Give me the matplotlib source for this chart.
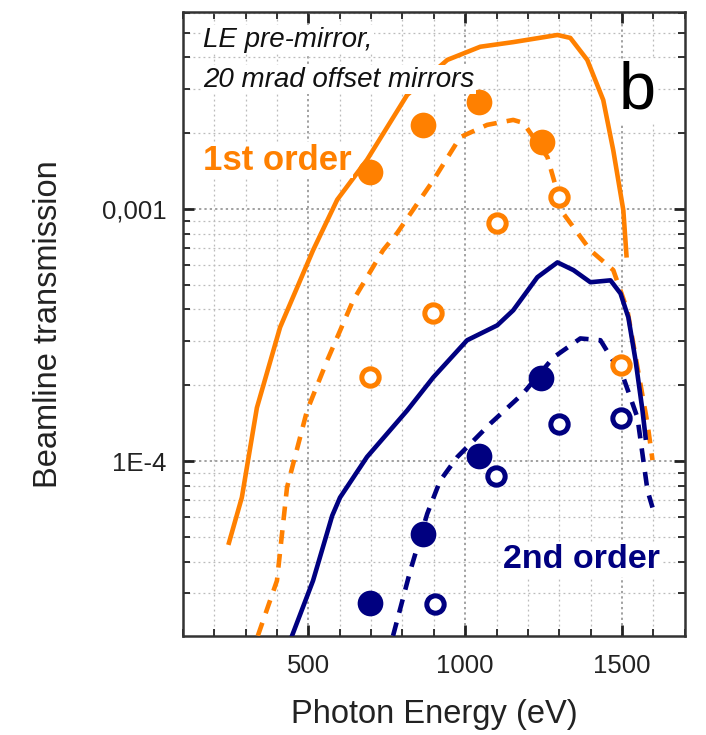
import matplotlib.pyplot as plt
import numpy as np
from matplotlib.ticker import FixedLocator, FixedFormatter, LogLocator, MultipleLocator, NullFormatter

plt.rcParams['font.family'] = ['Liberation Sans', 'DejaVu Sans']

ORANGE = '#FF8000'
NAVY = '#000080'

# 1st order, calculated (solid)
o_sol_x = [247, 288, 336, 410, 515, 592, 687, 815, 943, 1048, 1153, 1294, 1335, 1389, 1440, 1472, 1504, 1514]
o_sol_y = [4.75e-5, 7.18e-5, 1.63e-4, 3.40e-4, 6.87e-4, 1.09e-3, 1.57e-3, 2.84e-3, 3.91e-3,
           4.41e-3, 4.60e-3, 4.91e-3, 4.78e-3, 3.91e-3, 2.71e-3, 1.71e-3, 9.9e-4, 6.56e-4]
# 1st order, calculated (dashed)
o_dash_x = [339, 400, 432, 496, 560, 643, 738, 783, 898, 984, 1070, 1153, 1185, 1262, 1313,
            1399, 1472, 1517, 1549, 1581, 1597]
o_dash_y = [2.03e-5, 3.36e-5, 7.87e-5, 1.59e-4, 2.51e-4, 4.35e-4, 6.87e-4, 8.04e-4, 1.30e-3,
            1.93e-3, 2.16e-3, 2.26e-3, 2.20e-3, 1.61e-3, 9.6e-4, 6.87e-4, 5.73e-4, 3.97e-4,
            2.36e-4, 1.41e-4, 1.01e-4]
# 2nd order, calculated (solid)
n_sol_x = [448, 515, 576, 601, 687, 815, 898, 1006, 1102, 1153, 1230, 1294, 1345, 1399, 1463,
           1495, 1520, 1543, 1565, 1575]
n_sol_y = [2.03e-5, 3.36e-5, 6.08e-5, 7.18e-5, 1.04e-4, 1.59e-4, 2.15e-4, 3.02e-4, 3.46e-4,
           3.97e-4, 5.37e-4, 6.15e-4, 5.73e-4, 5.13e-4, 5.22e-4, 4.63e-4, 3.72e-4, 2.51e-4,
           1.59e-4, 1.24e-4]
# 2nd order, calculated (dashed)
n_dash_x = [770, 825, 879, 920, 975, 1080, 1185, 1281, 1367, 1431, 1504, 1549, 1581, 1597]
n_dash_y = [2.03e-5, 3.68e-5, 6.19e-5, 8.37e-5, 1.04e-4, 1.41e-4, 1.86e-4, 2.58e-4, 3.07e-4,
            3.02e-4, 2.15e-4, 1.49e-4, 7.66e-5, 6.55e-5]

# measured points
o_fill_x = [697, 866, 1045, 1246]
o_fill_y = [1.40e-3, 2.16e-3, 2.66e-3, 1.85e-3]
o_open_x = [697, 898, 1102, 1300, 1498]
o_open_y = [2.15e-4, 3.86e-4, 8.79e-4, 1.12e-3, 2.40e-4]
n_fill_x = [697, 866, 1045, 1243]
n_fill_y = [2.75e-5, 5.16e-5, 1.05e-4, 2.13e-4]
n_open_x = [904, 1099, 1300, 1498]
n_open_y = [2.72e-5, 8.77e-5, 1.40e-4, 1.49e-4]

fig = plt.figure(figsize=(7.06, 7.35), dpi=100)
ax = fig.add_axes([0.259, 0.135, 0.711, 0.849])

lw = 3.3
ax.plot(o_sol_x, o_sol_y, color=ORANGE, lw=lw, zorder=3)
ax.plot(o_dash_x, o_dash_y, color=ORANGE, lw=lw, dashes=(3, 2.2), zorder=3)
ax.plot(n_sol_x, n_sol_y, color=NAVY, lw=lw, zorder=3)
ax.plot(n_dash_x, n_dash_y, color=NAVY, lw=lw, dashes=(3, 2.2), zorder=3)

ax.plot(o_fill_x, o_fill_y, 'o', color=ORANGE, ms=18.5, mec='none', zorder=4)
ax.plot(o_open_x, o_open_y, 'o', mfc='white', mec=ORANGE, ms=12.5, mew=3.6, zorder=4)
ax.plot(n_fill_x, n_fill_y, 'o', color=NAVY, ms=18.5, mec='none', zorder=4)
ax.plot(n_open_x, n_open_y, 'o', mfc='white', mec=NAVY, ms=12.5, mew=3.6, zorder=4)

ax.set_xscale('linear')
ax.set_yscale('log')
ax.set_xlim(100, 1700)
ax.set_ylim(2.03e-5, 6.07e-3)

ax.xaxis.set_major_locator(FixedLocator([500, 1000, 1500]))
ax.xaxis.set_minor_locator(MultipleLocator(100))
ax.yaxis.set_major_locator(FixedLocator([1e-4, 1e-3]))
ax.yaxis.set_major_formatter(FixedFormatter(['1E-4', '0,001']))
ax.yaxis.set_minor_locator(LogLocator(base=10, subs=np.arange(2, 10)))
ax.yaxis.set_minor_formatter(NullFormatter())

ax.tick_params(which='both', direction='in', top=True, right=True, labelsize=18.5,
               colors='#222222', labelcolor='#222222')
ax.tick_params(which='major', length=8, width=2)
ax.tick_params(which='minor', length=5, width=1.3)
ax.tick_params(axis='x', which='major', pad=13)
ax.tick_params(axis='y', which='major', pad=12)
for s in ax.spines.values():
    s.set_linewidth(1.8)
    s.set_color('#333333')

ax.grid(which='major', color='#888888', ls=(0, (1.5, 2)), lw=1.1, zorder=0)
ax.grid(which='minor', color='#bbbbbb', ls=(0, (1.5, 2.5)), lw=0.9, zorder=0)

ax.set_xlabel('Photon Energy (eV)', fontsize=23.5, color='#222222', labelpad=15)
ax.set_ylabel('Beamline transmission', fontsize=23.5, color='#222222', labelpad=27)

bbox = dict(facecolor='white', edgecolor='none', pad=1)
ax.text(0.04, 0.955, 'LE pre-mirror,', transform=ax.transAxes, fontsize=20,
        style='italic', color='#111111', va='center', ha='left', bbox=bbox, zorder=5)
ax.text(0.04, 0.891, '20 mrad offset mirrors', transform=ax.transAxes, fontsize=20,
        style='italic', color='#111111', va='center', ha='left', bbox=bbox, zorder=5)
ax.text(0.905, 0.873, 'b', transform=ax.transAxes, fontsize=48, color='black',
        va='center', ha='center', bbox=bbox, zorder=5)
ax.text(0.04, 0.762, '1st order', transform=ax.transAxes, fontsize=25, fontweight='bold',
        color=ORANGE, va='center', ha='left', bbox=bbox, zorder=5)
ax.text(0.637, 0.122, '2nd order', transform=ax.transAxes, fontsize=24.5, fontweight='bold',
        color=NAVY, va='center', ha='left', bbox=bbox, zorder=5)

fig.savefig('out.png', dpi=100)
